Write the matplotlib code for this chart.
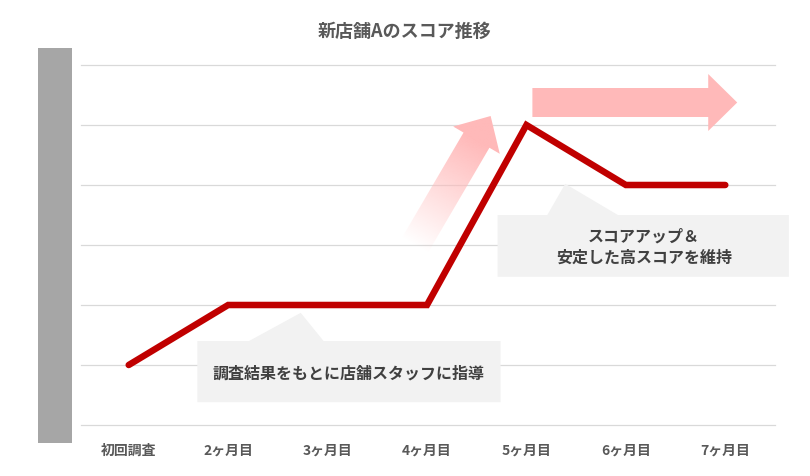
"""Score trend of new store A, with callouts and arrows."""

import numpy as np
import matplotlib

matplotlib.use("Agg")
import matplotlib.pyplot as plt
from matplotlib.patches import Polygon, Rectangle

plt.rcParams["font.family"] = ["Noto Sans CJK JP", "DejaVu Sans"]

TITLE = "新店舗Aのスコア推移"
CATEGORIES = ["初回調査", "2ヶ月目", "3ヶ月目", "4ヶ月目", "5ヶ月目", "6ヶ月目", "7ヶ月目"]
SCORES = [1, 2, 2, 2, 5, 4, 4]
GRID_LEVELS = [0, 1, 2, 3, 4, 5, 6]
NOTE_GUIDANCE = "調査結果をもとに店舗スタッフに指導"
NOTE_STABLE = "スコアアップ＆\n安定した高スコアを維持"

RED = "#C00000"
PINK = (1.0, 185 / 255, 185 / 255)
TEXT = "#595959"
NOTE_TEXT = "#404040"
NOTE_BG = "#F2F2F2"

W, H = 810, 477
fig = plt.figure(figsize=(W / 100, H / 100), dpi=100)
fig.patch.set_facecolor("white")

# placeholder bar on the left
fig.add_artist(Rectangle((38 / W, 1 - 444 / H), 34 / W, 395 / H,
                         transform=fig.transFigure, color="#A6A6A6", lw=0))
fig.text(0.5, 1 - 31 / H, TITLE, ha="center", va="center",
         fontsize=13, fontweight="bold", color=TEXT)

ax = fig.add_axes([79 / W, 1 - 426 / H, 696 / W, 360 / H])
ax.set_xlim(-0.5, len(CATEGORIES) - 0.5)
ax.set_ylim(GRID_LEVELS[0], GRID_LEVELS[-1])
for s in ax.spines.values():
    s.set_visible(False)
ax.set_yticks([])
ax.set_xticks(range(len(CATEGORIES)))
ax.set_xticklabels(CATEGORIES, fontsize=10, fontweight="bold", color=TEXT)
ax.tick_params(axis="x", length=0, pad=13)
for g in GRID_LEVELS:
    ax.plot([-0.48, len(CATEGORIES) - 0.5], [g, g], color="#D9D9D9",
            lw=0.9, zorder=0.5, clip_on=False)

ax.plot(range(len(CATEGORIES)), SCORES, color=RED, lw=4.7,
        solid_capstyle="round", solid_joinstyle="miter", zorder=5)


def callout(x0, x1, y0, y1, base_l, base_r, tip):
    verts = [(x0, y1), (base_l, y1), tip, (base_r, y1), (x1, y1),
             (x1, y0), (x0, y0)]
    ax.add_patch(Polygon(verts, closed=True, facecolor=NOTE_BG,
                         edgecolor="none", zorder=1, clip_on=False))


callout(0.69, 3.74, 0.38, 1.40, 1.21, 1.96, (1.73, 1.87))
ax.text(2.21, 0.88, NOTE_GUIDANCE, ha="center", va="center", fontsize=11.5,
        fontweight="bold", color=NOTE_TEXT, zorder=2)

callout(3.71, 6.64, 2.47, 3.50, 4.21, 4.92, (4.39, 4.02))
ax.text(5.18, 2.98, NOTE_STABLE, ha="center", va="center", fontsize=11.5,
        fontweight="bold", color=NOTE_TEXT, linespacing=1.45, zorder=2,
        clip_on=False)


def arrow_pixels(tail, tip, body_w, head_w, head_l):
    """Arrow outline in display pixels, from data-space tail and tip."""
    t = ax.transData.transform(tail)
    p = ax.transData.transform(tip)
    d = (p - t) / np.linalg.norm(p - t)
    n = np.array([-d[1], d[0]])
    b = p - d * head_l
    pts = [t + n * body_w / 2, b + n * body_w / 2, b + n * head_w / 2, p,
           b - n * head_w / 2, b - n * body_w / 2, t - n * body_w / 2]
    return np.array(pts), t, b


def to_data(pts):
    return ax.transData.inverted().transform(pts)


# flat arrow to the right
pts, _, _ = arrow_pixels((4.06, 5.375), (6.12, 5.375), 29, 57, 29)
ax.add_patch(Polygon(to_data(pts), closed=True, facecolor=PINK,
                     edgecolor="none", zorder=1, clip_on=False))

# rising arrow fading in from its tail
pts, t, b = arrow_pixels((2.88, 3.0), (3.64, 5.15), 30, 54, 28)
poly = Polygon(to_data(pts), closed=True, facecolor="none",
               edgecolor="none", zorder=1)
ax.add_patch(poly)
xmin, ymin = pts.min(axis=0) - 2
xmax, ymax = pts.max(axis=0) + 2
gx, gy = np.meshgrid(np.linspace(xmin, xmax, 200), np.linspace(ymin, ymax, 200))
axis_vec = b - t
frac = ((gx - t[0]) * axis_vec[0] + (gy - t[1]) * axis_vec[1]) / axis_vec.dot(axis_vec)
img = np.zeros(gx.shape + (4,))
img[..., :3] = PINK
img[..., 3] = np.clip(frac, 0, 1)
(dx0, dy0), (dx1, dy1) = to_data([(xmin, ymin), (xmax, ymax)])
im = ax.imshow(img, extent=(dx0, dx1, dy0, dy1), origin="lower",
               aspect="auto", zorder=1, interpolation="bilinear")
im.set_clip_path(poly)
ax.set_xlim(-0.5, len(CATEGORIES) - 0.5)
ax.set_ylim(GRID_LEVELS[0], GRID_LEVELS[-1])

fig.savefig("out.png", dpi=100)
